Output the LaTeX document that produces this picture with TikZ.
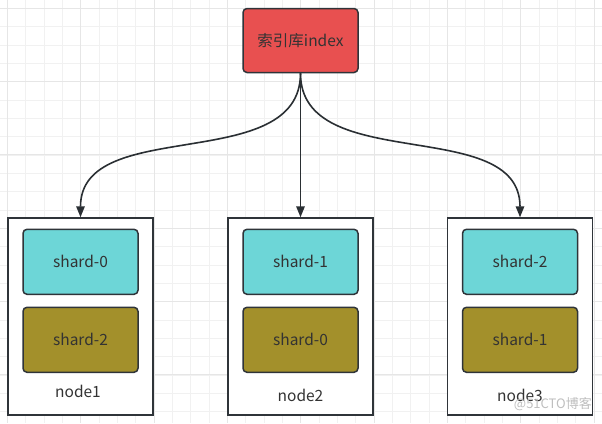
\documentclass[tikz,border=0pt]{standalone}
\usepackage{fontspec}
\setmainfont{Noto Sans CJK SC}
\usetikzlibrary{arrows.meta}
\definecolor{redfill}{HTML}{E85050}
\definecolor{cyanfill}{HTML}{6DD6D7}
\definecolor{olivefill}{HTML}{A3902B}
\definecolor{edgecol}{HTML}{2F3439}
\definecolor{txt}{HTML}{333333}
\definecolor{gridminor}{HTML}{F1F1F1}
\definecolor{gridmajor}{HTML}{E6E6E6}
\tikzset{
  rbox/.style={draw=edgecol, line width=1.5pt, rounded corners=4pt, inner sep=0pt, text=txt, font=\fontsize{15.5}{18}\selectfont},
  shardbox/.style={rbox, minimum width=115pt, minimum height=65pt},
  container/.style={draw=edgecol, line width=1.5pt, fill=white, inner sep=0pt, minimum width=145pt, minimum height=197pt},
  lbl/.style={text=txt, font=\fontsize{15.5}{18}\selectfont, inner sep=0pt},
  conn/.style={draw=edgecol!90!black, line width=1.6pt, -{Triangle[length=11pt,width=8.5pt]}}
}
\begin{document}
\begin{tikzpicture}[x=1pt,y=-1pt]
\useasboundingbox (0,0) rectangle (602,423);
\fill[white] (0,0) rectangle (602,423);
% grid
\foreach \i in {-1,...,33} {
  \draw[gridminor, line width=0.9pt] ({7.5+18.333*\i},0) -- ({7.5+18.333*\i},423);
  \draw[gridminor, line width=0.9pt] (0,{8.3+18.333*\i}) -- (602,{8.3+18.333*\i});
}
\foreach \i in {0,...,8} {
  \draw[gridmajor, line width=1pt] ({7.5+73.333*\i},0) -- ({7.5+73.333*\i},423);
  \draw[gridmajor, line width=1pt] (0,{8.3+73.333*\i}) -- (602,{8.3+73.333*\i});
}
% top index
\node[rbox, fill=redfill, minimum width=115pt, minimum height=64pt] (idx) at (300.5,40.5) {索引库index};
% containers
\node[container] (n1) at (80.5,316.5) {};
\node[container] (n2) at (300.5,316.5) {};
\node[container] (n3) at (520,316.5) {};
% shards
\node[shardbox, fill=cyanfill] (s10) at (80.5,261.8) {shard-0};
\node[shardbox, fill=olivefill] (s12) at (80.5,339.8) {shard-2};
\node[shardbox, fill=cyanfill] (s21) at (300.5,261.8) {shard-1};
\node[shardbox, fill=olivefill] (s20) at (300.5,339.8) {shard-0};
\node[shardbox, fill=cyanfill] (s32) at (520,261.8) {shard-2};
\node[shardbox, fill=olivefill] (s31) at (520,339.8) {shard-1};
% labels
\node[lbl] (l1) at (78,391) {node1};
\node[lbl] (l2) at (300.5,395.5) {node2};
\node[lbl] (l3) at (520,395.5) {node3};
% connectors
\coordinate (src) at (idx.south);
\draw[conn] (src) to[out=-90,in=90] (n1.north);
\draw[conn] (src) -- (n2.north);
\draw[conn] (src) to[out=-90,in=90] (n3.north);
% watermark
\node[text=black!25, font=\fontsize{13}{15}\selectfont, inner sep=0pt, anchor=east] (wm) at (592,404) {@51CTO博客};
\end{tikzpicture}
\end{document}
